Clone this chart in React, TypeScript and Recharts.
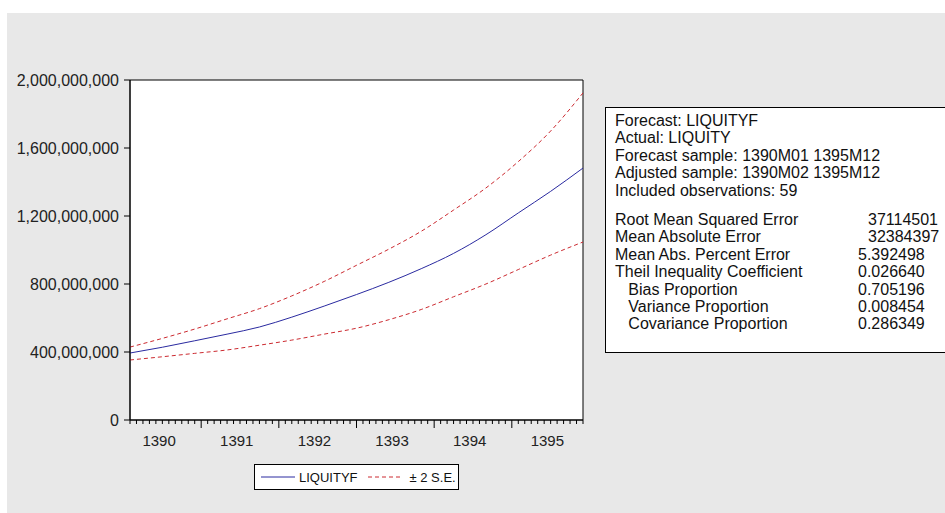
import React from 'react';
import { LineChart, Line, XAxis, YAxis, ReferenceArea } from 'recharts';

// forecast months (sampled every 5 months) and values in millions
const months = [
  '1390M02', '1390M07', '1390M12', '1391M05', '1391M10', '1392M03', '1392M08', '1393M01',
  '1393M06', '1393M11', '1394M04', '1394M09', '1395M02', '1395M07', '1395M12',
];
const liquityF = [394, 428, 466, 505, 547, 605, 670, 738, 810, 890, 980, 1090, 1218, 1345, 1482];
const upperSE = [429, 480, 535, 595, 655, 730, 815, 910, 1005, 1110, 1235, 1365, 1520, 1700, 1924];
const lowerSE = [353, 372, 392, 412, 440, 470, 505, 540, 590, 650, 725, 800, 885, 970, 1047];

const years = ['1390', '1391', '1392', '1393', '1394', '1395'];
const yTicks = [0, 400000000, 800000000, 1200000000, 1600000000, 2000000000];

const headerLines = [
  'Forecast: LIQUITYF',
  'Actual: LIQUITY',
  'Forecast sample: 1390M01 1395M12',
  'Adjusted sample: 1390M02 1395M12',
  'Included observations: 59',
];
const statNames = [
  'Root Mean Squared Error',
  'Mean Absolute Error',
  'Mean Abs. Percent Error',
  'Theil Inequality Coefficient',
  '   Bias Proportion',
  '   Variance Proportion',
  '   Covariance Proportion',
];
const statValues = ['37114501', '32384397', '5.392498', '0.026640', '0.705196', '0.008454', '0.286349'];

const FONT = '"Liberation Sans", Arial, sans-serif';
const BLUE = '#2a2aa0';
const RED = '#cc2a30';

// month index from "1390M02"
const monthIndex = (m: string) => (Number(m.slice(0, 4)) - 1390) * 12 + Number(m.slice(5)) - 2;

const data = months.map((m, i) => ({
  idx: monthIndex(m),
  forecast: liquityF[i] * 1e6,
  upper: upperSE[i] * 1e6,
  lower: lowerSE[i] * 1e6,
}));

const monthTicks = Array.from({ length: 71 }, (_, i) => i);

function MonthTick(props: any) {
  const { x, y, payload } = props;
  const i = payload.value;
  const jan = i % 12 === 11;
  const labelAt = i % 12 === 4;
  const yearIdx = Math.floor((i + 1) / 12);
  return (
    <g>
      <line x1={x} x2={x} y1={y} y2={y + (jan ? 8 : 4)} stroke="#000" strokeWidth={1} />
      {labelAt && (
        <text x={x + 3.2} y={y + 26} textAnchor="middle" fontSize={15} fill="#222" fontFamily={FONT}>
          {years[yearIdx]}
        </text>
      )}
    </g>
  );
}

export default function App() {
  return (
    <div style={{ position: 'absolute', left: 0, top: 0, width: 945, height: 513, background: '#fff', fontFamily: FONT, overflow: 'hidden' }}>
      <div style={{ position: 'absolute', left: 7, top: 13, right: 0, bottom: 0, background: '#e8e8e8' }} />
      <div style={{ position: 'absolute', left: 0, top: 0 }}>
        <LineChart width={945} height={513} data={data} margin={{ top: 80, right: 362, bottom: 63, left: 10 }}>
          <XAxis
            dataKey="idx"
            type="number"
            domain={[0, 70]}
            ticks={monthTicks}
            interval={0}
            tickSize={0}
            tickMargin={0}
            tickLine={false}
            axisLine={{ stroke: '#000' }}
            height={30}
            tick={<MonthTick />}
          />
          <YAxis
            type="number"
            domain={[0, 2000000000]}
            ticks={yTicks}
            width={120}
            tickSize={6}
            tickMargin={5}
            axisLine={{ stroke: '#000' }}
            tickLine={{ stroke: '#000' }}
            tick={{ fontSize: 16, fill: '#222', fontFamily: FONT }}
            tickFormatter={(v: number) => v.toLocaleString('en-US')}
          />
          <ReferenceArea x1={0} x2={70} y1={0} y2={2000000000} fill="#fff" fillOpacity={1} stroke="#000" strokeWidth={1} />
          <Line type="monotone" dataKey="upper" stroke={RED} strokeWidth={1} strokeDasharray="4 3" dot={false} isAnimationActive={false} />
          <Line type="monotone" dataKey="lower" stroke={RED} strokeWidth={1} strokeDasharray="4 3" dot={false} isAnimationActive={false} />
          <Line type="monotone" dataKey="forecast" stroke={BLUE} strokeWidth={1} dot={false} isAnimationActive={false} />
        </LineChart>
      </div>

      {/* legend */}
      <div
        style={{
          position: 'absolute', left: 254, top: 464, width: 203, height: 24, background: '#fff',
          border: '1px solid #000', display: 'flex', alignItems: 'center', fontSize: 13, color: '#111',
        }}
      >
        <svg width={38} height={10} style={{ marginLeft: 6 }}>
          <line x1={0} x2={34} y1={5} y2={5} stroke={BLUE} strokeWidth={1} />
        </svg>
        <span>LIQUITYF</span>
        <svg width={42} height={10} style={{ marginLeft: 10 }}>
          <line x1={0} x2={34} y1={5} y2={5} stroke={RED} strokeWidth={1} strokeDasharray="4 3" />
        </svg>
        <span>± 2 S.E.</span>
      </div>

      {/* forecast evaluation box */}
      <div
        style={{
          position: 'absolute', left: 605, top: 107, width: 360, height: 246, background: '#fff',
          border: '1px solid #000', fontSize: 16, color: '#111', lineHeight: '17.4px', boxSizing: 'border-box',
          padding: '4px 0 0 9px',
        }}
      >
        {headerLines.map((t) => (
          <div key={t}>{t}</div>
        ))}
        <div style={{ height: 12 }} />
        {statNames.map((t, i) => (
          <div key={t} style={{ display: 'flex' }}>
            <span style={{ width: 243, whiteSpace: 'pre' }}>{t}</span>
            <span style={{ marginLeft: statValues[i].includes('.') ? 0 : 10 }}>{statValues[i]}</span>
          </div>
        ))}
      </div>
    </div>
  );
}
